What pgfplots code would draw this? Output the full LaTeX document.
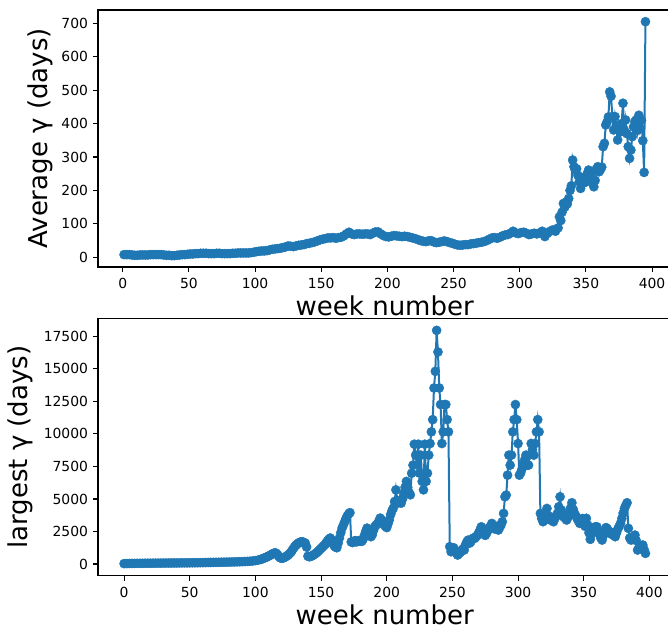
\documentclass[border=0pt]{standalone}
\usepackage{fontspec}
\setmainfont{DejaVu Sans}
\usepackage{pgfplots}
\pgfplotsset{compat=1.18}
\definecolor{mplblue}{HTML}{1F77B4}

\pgfplotsset{
  gammaax/.style={
    scale only axis, width=573.5pt, height=257pt,
    axis line style={line width=1.1pt, black},
    tick style={line width=1.1pt, black},
    tick align=outside, major tick length=4.9pt,
    xtick pos=bottom, ytick pos=left,
    /pgf/number format/assume math mode=true,
    /pgf/number format/1000 sep={},
    scaled y ticks=false,
    tick label style={font=\fontsize{13.9}{16}\selectfont},
    xtick={0,50,...,400},
    xticklabel style={anchor=north, inner sep=0pt, yshift=-6pt},
    yticklabel style={anchor=east, inner sep=0pt, xshift=-4.9pt},
    every axis x label/.style={at={(axis description cs:0.5,0)}, anchor=base, inner sep=0pt,
      yshift=-48.5pt, font=\fontsize{26}{30}\selectfont},
    xlabel={week number},
  },
  gammaline/.style={color=mplblue, line width=2pt, mark=*, mark size=4.6pt,
    mark options={solid, fill=mplblue, draw=mplblue, line width=0.4pt}},
}

\begin{document}
\begin{tikzpicture}
% average
\begin{axis}[gammaax, at={(98pt,361pt)}, anchor=south west,
  xmin=-18.7, xmax=414.7, ymin=-29, ymax=740,
  ytick={0,100,...,700},
  every axis y label/.style={at={(axis description cs:-0.1003,0.5)}, rotate=90, anchor=center,
    font=\fontsize{26}{30}\selectfont},
  ylabel={Average γ (days)}]
\addplot[gammaline] coordinates {
(1,8) (3,8) (5,8) (7,7) (9,6) (11,6) (13,7) (15,7) (17,7) (19,7)
(21,8) (23,8) (25,8) (27,8) (29,8) (31,7) (33,6) (35,6) (37,5) (39,5)
(41,6) (43,7) (45,8) (47,8) (49,9) (51,10) (53,10) (55,11) (57,11) (59,12)
(61,12) (63,12) (65,11) (67,11) (69,11) (71,12) (73,12) (75,11) (77,11) (79,11)
(81,11) (83,12) (85,12) (87,13) (89,13) (91,13) (93,13) (95,13) (97,14) (99,15)
(101,17) (103,18) (105,19) (107,19) (109,20) (111,22) (113,24) (115,25) (117,26) (119,27)
(121,29) (123,31) (125,34) (127,33) (129,32) (131,34) (133,36) (135,37) (137,38) (139,41)
(141,42) (143,44) (145,46) (147,49) (149,52) (151,54) (153,56) (155,58) (157,58) (159,59)
(161,57) (163,59) (165,60) (167,64) (169,70) (171,75) (173,70) (175,68) (177,70) (179,70)
(181,69) (183,70) (185,70) (187,68) (189,72) (191,76) (193,76) (195,70) (197,65) (199,62)
(201,61) (203,63) (205,65) (207,64) (209,63) (211,62) (213,63) (215,62) (217,60) (219,58)
(221,56) (223,53) (225,50) (227,48) (229,47) (231,49) (233,50) (235,46) (237,44) (239,45)
(241,47) (243,49) (245,47) (247,44) (249,42) (251,39) (253,37) (255,36) (257,37) (259,38)
(261,38) (263,40) (265,41) (267,42) (269,44) (271,45) (273,47) (275,50) (277,54) (279,58)
(281,59) (283,57) (285,60) (287,64) (289,67) (291,68) (293,72) (295,78) (297,73) (299,71)
(301,74) (303,75) (305,72) (307,68) (309,70) (311,72) (313,70) (315,73) (317,78) (319,62)
(321,72) (323,78) (325,82) (327,78) (329,88)
(330,121) (331,110) (332,135) (333,161) (334,150) (335,165) (336,160) (337,176) (338,200) (339,214)
(340,291) (341,271) (342,261) (343,265) (344,245) (345,226) (346,206) (347,220) (348,230) (349,240)
(350,225) (351,250) (352,261) (353,236) (354,245) (355,225) (356,211) (357,230) (358,265) (359,271)
(360,256) (361,262) (362,270) (363,331) (364,341) (365,396) (366,405) (367,420) (368,495) (369,482)
(370,421) (371,381) (372,421) (373,395) (374,351) (375,396) (376,375) (377,400) (378,461) (379,381)
(380,411) (381,370) (382,331) (383,296) (384,321) (385,361) (386,390) (387,406) (388,411) (389,380)
(390,425) (391,386) (392,410) (393,349) (394,254) (395,705)
};
\end{axis}
% largest
\begin{axis}[gammaax, at={(98pt,52.3pt)}, anchor=south west,
  xmin=-19.85, xmax=416.85, ymin=-898, ymax=18858,
  ytick={0,2500,...,17500},
  every axis y label/.style={at={(axis description cs:-0.1348,0.5)}, rotate=90, anchor=center,
    font=\fontsize{26}{30}\selectfont},
  ylabel={largest γ (days)}]
\addplot[gammaline] coordinates {
(0,30) (2,35) (4,40) (6,45) (8,48) (10,50) (12,52) (14,55) (16,58) (18,60)
(20,62) (22,64) (24,66) (26,68) (28,70) (30,72) (32,74) (34,76) (36,78) (38,80)
(40,82) (42,84) (44,86) (46,88) (48,90) (50,92) (52,95) (54,98) (56,100) (58,104)
(60,108) (62,112) (64,116) (66,120) (68,124) (70,128) (72,132) (74,136) (76,140) (78,145)
(80,150) (82,156) (84,162) (86,168) (88,175) (90,182) (92,190) (94,200) (96,215) (98,235)
(100,260) (102,300) (104,350)
(105,390) (106,430) (107,470) (108,510) (109,560) (110,610) (111,660) (112,720) (113,780) (114,830)
(115,860) (116,820) (117,700) (118,560) (119,470) (120,440) (121,460) (122,500) (123,560) (124,620)
(125,700) (126,800) (127,900) (128,1050) (129,1200) (130,1350) (131,1460) (132,1550) (133,1620) (134,1680)
(135,1710) (136,1700) (137,1650) (138,1600) (139,1300) (140,600) (141,560) (142,580) (143,620) (144,680)
(145,750) (146,820) (147,900) (148,1000) (149,1100) (150,1200) (151,1300) (152,1400) (153,1500) (154,1650)
(155,1800) (156,1900) (157,2000) (158,1850) (159,1600) (160,1400) (161,1300) (162,1250) (163,1600) (164,2000)
(165,2400) (166,2760) (167,3000) (168,3250) (169,3500) (170,3700) (171,3850) (172,3950) (173,1700) (174,1650)
(175,1750) (176,1800) (177,1700) (178,1750) (179,1800) (180,1750) (181,1740) (182,1900) (183,2200) (184,2500)
(185,2760) (186,2500) (187,2300) (188,2100) (189,2250) (190,2600) (191,2890) (192,3000) (193,3100) (194,3300)
(195,3530) (196,3400) (197,3200) (198,3020) (199,2900) (200,2800) (201,3100) (202,3400) (203,3800) (204,4100)
(205,4300) (206,4800) (207,5700) (208,4900) (209,4700) (210,4900) (211,4680) (212,5000) (213,5400) (214,5900)
(215,6350) (216,5900) (217,5500) (218,5320) (219,6980) (220,7600) (221,9210) (222,8370) (223,7620) (224,9210)
(225,6980) (226,8370) (227,6350) (228,5700) (229,9210) (230,6350) (231,6980) (232,8370) (233,9260) (234,10160)
(235,11100) (236,13530) (237,14810) (238,17960) (239,16300) (240,13530) (241,12260) (242,9260) (243,10160) (244,12260)
(245,12260) (246,11100) (247,10160) (248,1330) (249,945) (250,1200) (251,1250) (252,1000) (253,845) (254,690)
(255,800) (256,900) (257,1050) (258,1150) (259,1075) (260,1480) (261,1700) (262,1840) (263,1600) (264,1700)
(265,1900) (266,2000) (267,1970) (268,2100) (269,2200) (270,2400) (271,2600) (272,2860) (273,2600) (274,2400)
(275,2200) (276,2350) (277,2600) (278,2800) (279,2900) (280,3120) (281,2900) (282,2700) (283,2800) (284,2900)
(285,2610) (286,2800) (287,3000) (288,3250) (289,3890) (290,5170) (291,5300) (292,6830) (293,8370) (294,7600)
(295,8370) (296,10160) (297,11100) (298,12260) (299,11100) (300,9260) (301,6830) (302,7000) (303,7300) (304,7600)
(305,8000) (306,8370) (307,7600) (308,7600) (309,8400) (310,9260) (311,8800) (312,8370) (313,9260) (314,10160)
(315,11100) (316,10160) (317,3890) (318,3500) (319,3250) (320,3600) (321,3800) (322,4270) (323,3700) (324,3400)
(325,3600) (326,3500) (327,3250) (328,3500) (329,3700) (330,3900) (331,4400) (332,5170) (333,4145) (334,3700)
(335,3600) (336,3500) (337,3380) (338,3600) (339,3900) (340,4300) (341,4710) (342,4200) (343,3890) (344,3700)
(345,3500) (346,3300) (347,3120) (348,3300) (349,3500) (350,3200) (351,2900) (352,3510) (353,3000) (354,2400)
(355,1895) (356,2300) (357,2600) (358,2800) (359,2865) (360,2865) (361,2500) (362,2300) (363,2000) (364,1840)
(365,2200) (366,2500) (367,2800) (368,2700) (369,2480) (370,2480) (371,2300) (372,2400) (373,2200) (374,2100)
(375,2400) (376,2700) (377,2900) (378,3120) (379,3500) (380,3900) (381,4270) (382,4500) (383,4710) (384,2740)
(385,2000) (386,1840) (387,1900) (388,2100) (389,2225) (390,1800) (391,1075) (392,1200) (393,1300) (394,1400)
(395,1460) (396,1100) (397,820)
};
\end{axis}
\pgfresetboundingbox
\useasboundingbox (0,0) rectangle (668pt,628pt);
\end{tikzpicture}
\end{document}
